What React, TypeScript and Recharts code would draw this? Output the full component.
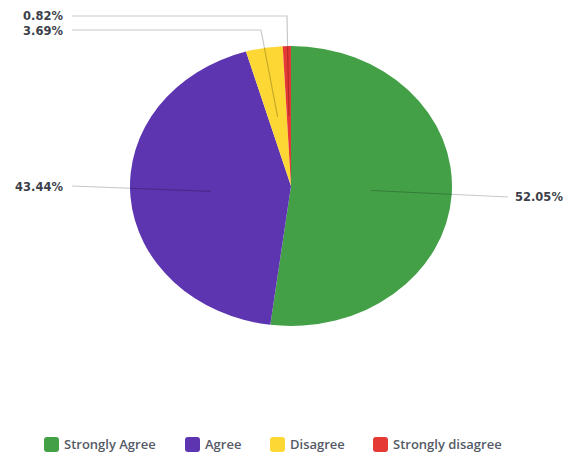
import React from 'react';
import { PieChart, Pie, Cell, Legend } from 'recharts';

const categories = ['Strongly Agree', 'Agree', 'Disagree', 'Strongly disagree'];
const shares = [52.05, 43.44, 3.69, 0.82];
const colors = ['#43A047', '#5E35B1', '#FDD835', '#E53935'];

const data = categories.map((name, i) => ({ name, value: shares[i] }));

const RAD = Math.PI / 180;
// the reference pie is squashed vertically
const Y_SCALE = 140 / 161;
// left edge of each legend entry
const LEGEND_X = [44, 185, 270, 373];

const EllipseSector = (props: any) => {
  const { cx, cy, outerRadius, startAngle, endAngle, fill } = props;
  const rx = outerRadius;
  const ry = outerRadius * Y_SCALE;
  const p = (a: number) => [cx + rx * Math.cos(a * RAD), cy - ry * Math.sin(a * RAD)];
  const [x0, y0] = p(startAngle);
  const [x1, y1] = p(endAngle);
  const large = Math.abs(startAngle - endAngle) > 180 ? 1 : 0;
  const sweep = startAngle > endAngle ? 1 : 0;
  const d = `M${cx},${cy} L${x0},${y0} A${rx},${ry} 0 ${large} ${sweep} ${x1},${y1} Z`;
  return <path d={d} fill={fill} />;
};

const renderLabel = (props: any) => {
  const { cx, cy, midAngle, outerRadius, percent, index } = props;
  const sx = cx + 0.5 * outerRadius * Math.cos(midAngle * RAD);
  const sy = cy - 0.5 * outerRadius * Y_SCALE * Math.sin(midAngle * RAD);
  const text = `${(percent * 100).toFixed(2)}%`;
  let pts: number[][];
  let tx: number;
  let ty: number;
  let anchor: 'start' | 'end' = 'end';
  if (index === 0) {
    pts = [[sx, sy], [508, 197]];
    tx = 515; ty = 197; anchor = 'start';
  } else if (index === 1) {
    pts = [[sx, sy], [72, 186]];
    tx = 63; ty = 187;
  } else if (index === 2) {
    pts = [[sx, sy], [261, 30], [72, 30]];
    tx = 63; ty = 31;
  } else {
    pts = [[sx, sy], [287, 16], [72, 16]];
    tx = 63; ty = 16;
  }
  const d = pts.map((q, i) => `${i ? 'L' : 'M'}${q[0]},${q[1]}`).join(' ');
  return (
    <g key={`lbl-${index}`}>
      <path d={d} fill="none" stroke="rgba(0,0,0,0.22)" strokeWidth={1.2} />
      <text
        x={tx}
        y={ty}
        textAnchor={anchor}
        dominantBaseline="central"
        fontFamily="'DejaVu Sans', sans-serif"
        fontSize={11.5}
        fontWeight={700}
        fill="#3d3f4a"
      >
        {text}
      </text>
    </g>
  );
};

const renderLegend = () => (
  <div
    style={{
      position: 'relative',
      height: 16,
      fontFamily: "'Open Sans', sans-serif",
      fontSize: 13,
      fontWeight: 600,
      color: '#555a66',
    }}
  >
    {categories.map((c, i) => (
      <div
        key={c}
        style={{
          position: 'absolute',
          left: LEGEND_X[i],
          top: 0,
          display: 'flex',
          alignItems: 'center',
          gap: 5,
          whiteSpace: 'nowrap',
        }}
      >
        <span
          style={{
            width: 15,
            height: 15,
            borderRadius: 3,
            background: colors[i],
            display: 'inline-block',
          }}
        />
        <span>{c}</span>
      </div>
    ))}
  </div>
);

export default function App() {
  return (
    <div style={{ position: 'absolute', left: 0, top: 0, width: 574, height: 452, background: '#fff' }}>
      <PieChart width={574} height={452} margin={{ top: 0, right: 0, bottom: 0, left: 0 }}>
        <Pie
          data={data}
          dataKey="value"
          nameKey="name"
          cx={291}
          cy={186}
          outerRadius={161}
          startAngle={90}
          endAngle={-270}
          shape={EllipseSector}
          label={renderLabel}
          labelLine={false}
          stroke="none"
          isAnimationActive={false}
        >
          {data.map((d, i) => (
            <Cell key={d.name} fill={colors[i]} />
          ))}
        </Pie>
        <Legend
          content={renderLegend}
          verticalAlign="bottom"
          wrapperStyle={{ left: 0, bottom: 1, width: 574 }}
        />
      </PieChart>
    </div>
  );
}
